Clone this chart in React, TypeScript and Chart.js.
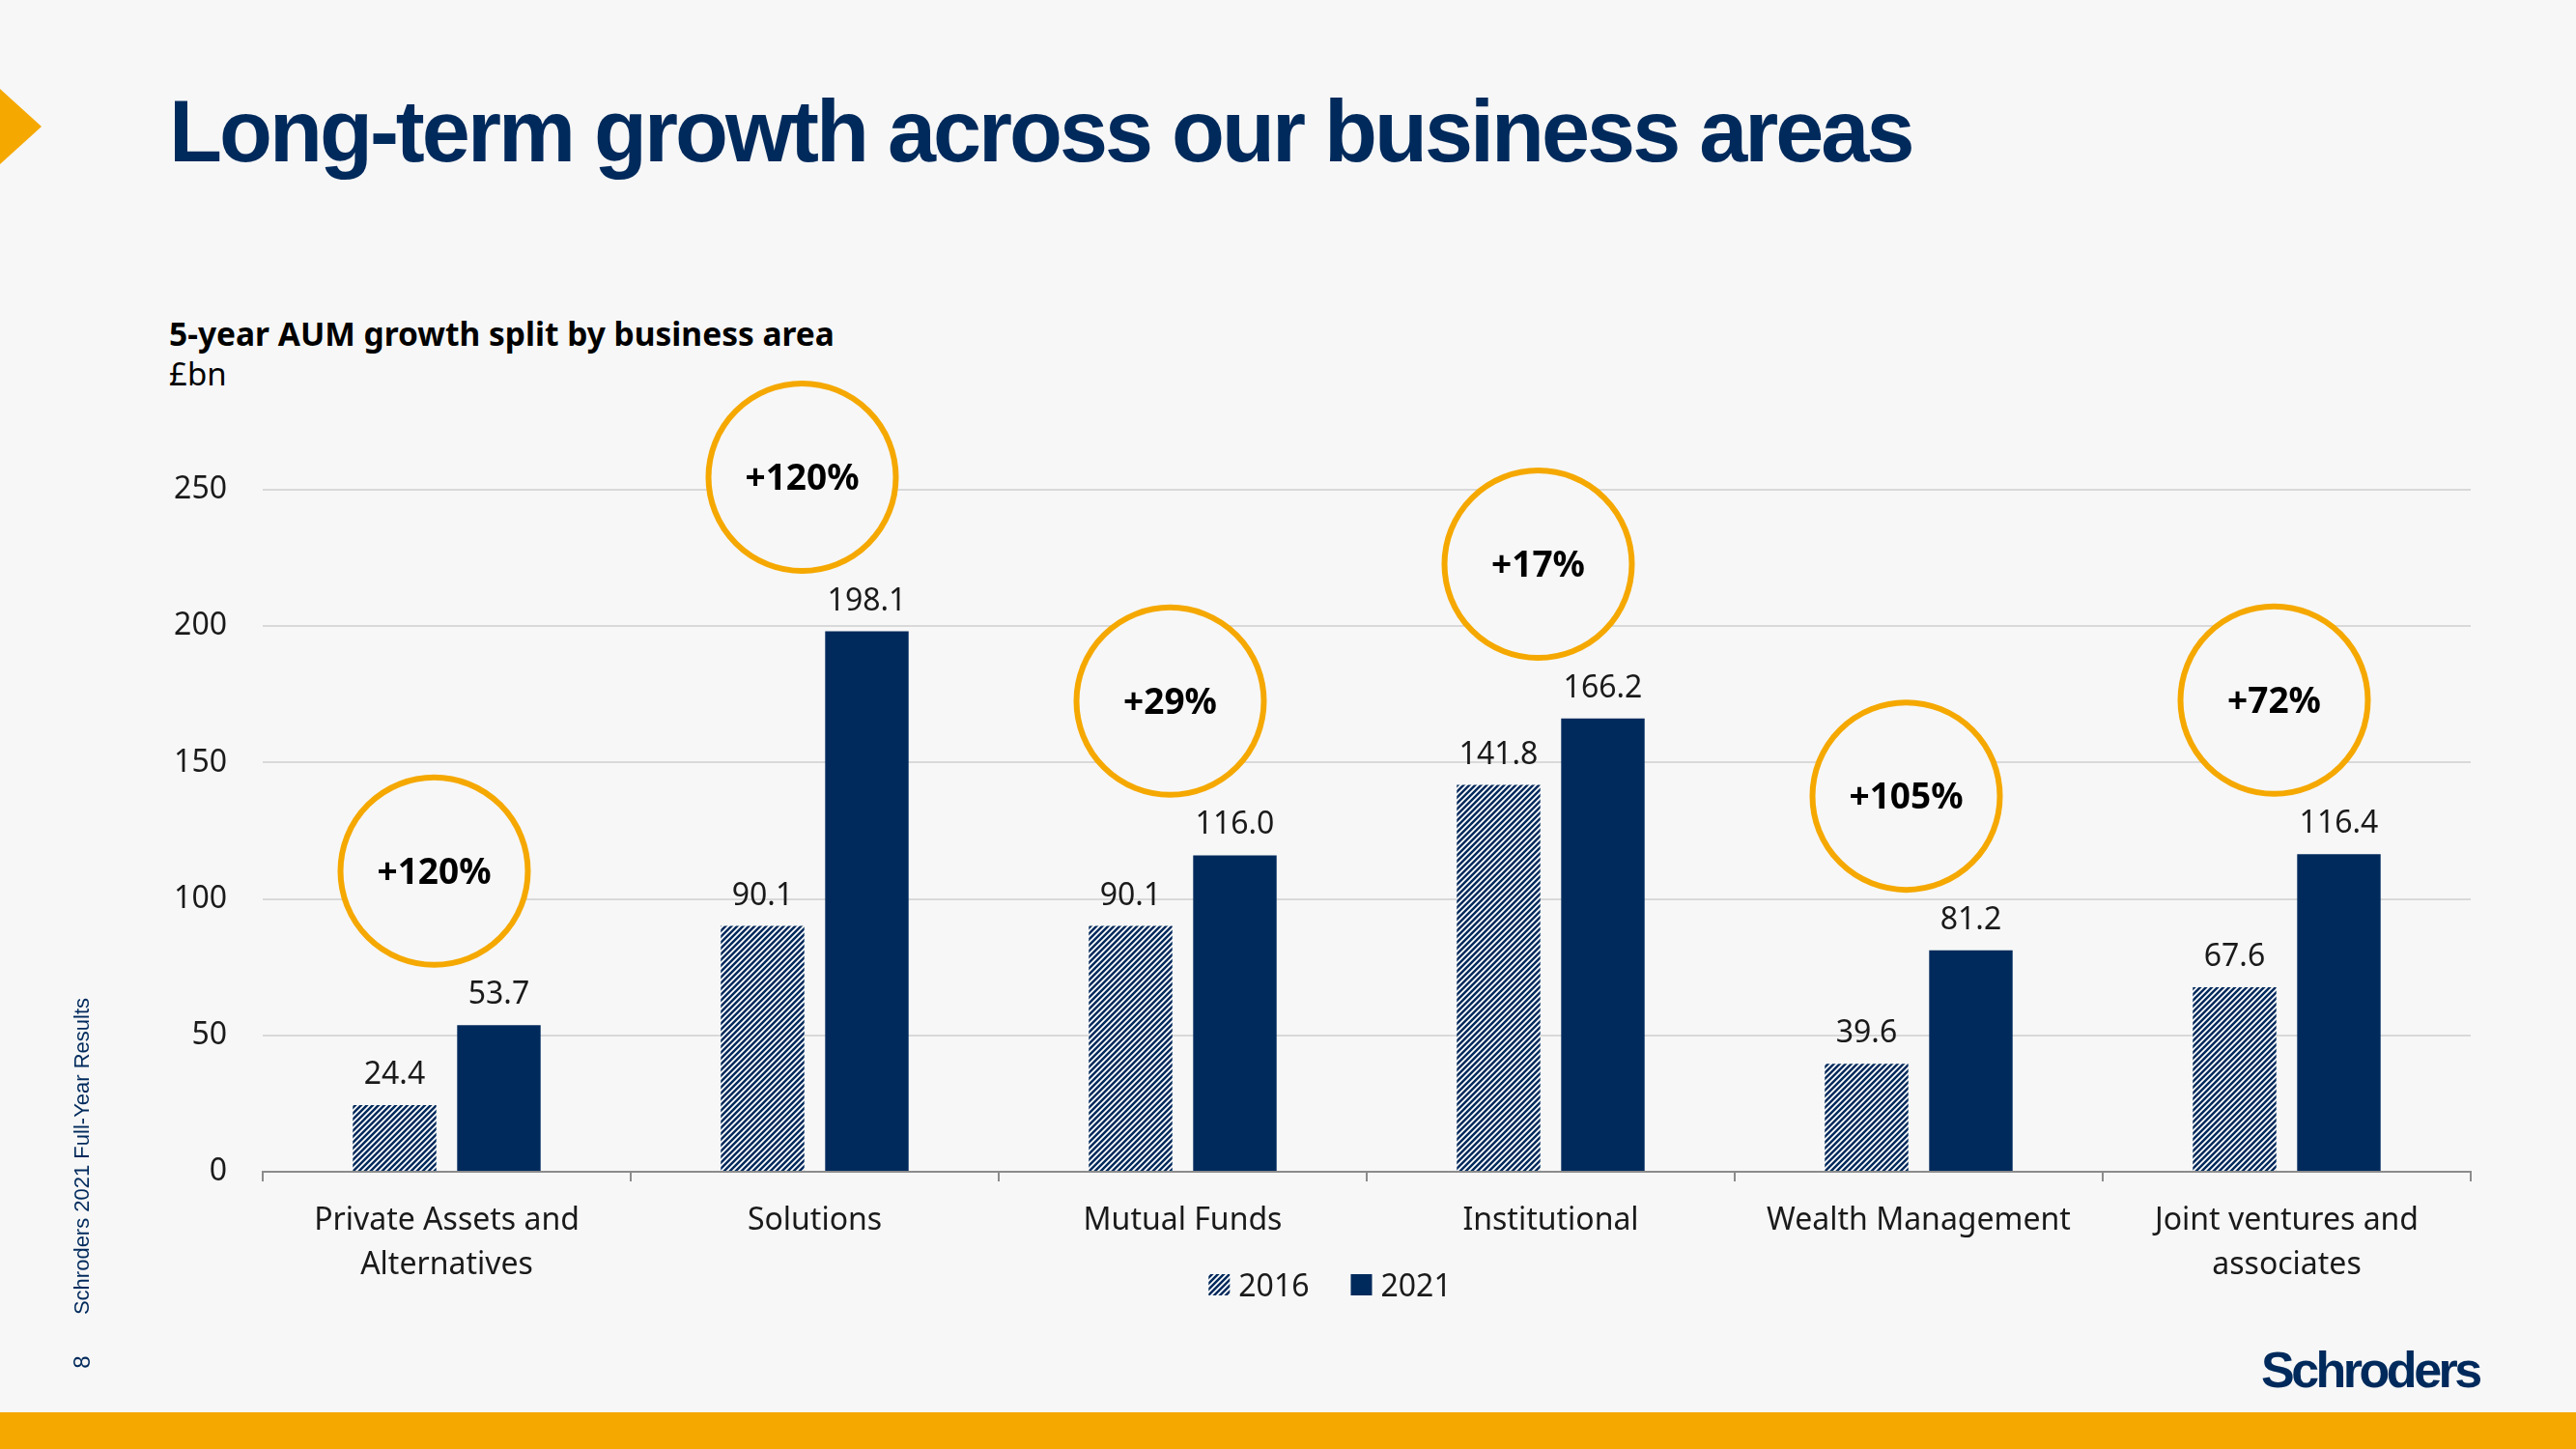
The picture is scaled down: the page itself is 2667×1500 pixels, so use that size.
import React, { useEffect, useRef } from 'react';
import { Chart, registerables } from 'chart.js';

Chart.register(...registerables);

// ---- data ----
const categories: (string | string[])[] = [
  ['Private Assets and', 'Alternatives'],
  'Solutions',
  'Mutual Funds',
  'Institutional',
  'Wealth Management',
  ['Joint ventures and', 'associates'],
];
const seriesNames = ['2016', '2021'];
const values2016 = [24.4, 90.1, 90.1, 141.8, 39.6, 67.6];
const values2021 = [53.7, 198.1, 116.0, 166.2, 81.2, 116.4];
const growthLabels = ['+120%', '+120%', '+29%', '+17%', '+105%', '+72%'];
const yTickValues = [0, 50, 100, 150, 200, 250];

// ---- style ----
const NAVY = '#002a5c';
const ORANGE = '#f5a800';
const BG = '#f7f7f7';
const FONT = "'Noto Sans', 'Open Sans', sans-serif";

export default function App() {
  const ref = useRef<HTMLCanvasElement>(null);

  useEffect(() => {
    const canvas = ref.current!;
    const ctx = canvas.getContext('2d')!;

    // hatch pattern for 2016
    const s = 6;
    const pc = document.createElement('canvas');
    pc.width = s;
    pc.height = s;
    const p = pc.getContext('2d')!;
    p.fillStyle = '#ffffff';
    p.fillRect(0, 0, s, s);
    p.strokeStyle = NAVY;
    p.lineWidth = 2.5;
    p.beginPath();
    p.moveTo(-s, s); p.lineTo(s, -s);
    p.moveTo(0, s); p.lineTo(s, 0);
    p.moveTo(0, 2 * s); p.lineTo(2 * s, 0);
    p.stroke();
    const hatch = ctx.createPattern(pc, 'repeat')!;

    const valueLabels = {
      id: 'valueLabels',
      afterDatasetsDraw(chart: any) {
        const c = chart.ctx;
        c.save();
        c.font = `32px ${FONT}`;
        c.fillStyle = '#1a1a1a';
        c.textAlign = 'center';
        c.textBaseline = 'alphabetic';
        chart.data.datasets.forEach((ds: any, di: number) => {
          const meta = chart.getDatasetMeta(di);
          meta.data.forEach((bar: any, i: number) => {
            c.fillText(Number(ds.data[i]).toFixed(1), bar.x, bar.y - 22);
          });
        });
        c.restore();
      },
    };

    const growthCircles = {
      id: 'growthCircles',
      afterDraw(chart: any) {
        const c = chart.ctx;
        const xs = chart.scales.x;
        const ys = chart.scales.y;
        c.save();
        growthLabels.forEach((txt, i) => {
          const top = Math.max(values2016[i], values2021[i]);
          const cx = xs.getPixelForValue(i) - 13;
          const cy = ys.getPixelForValue(top + 56.5);
          c.beginPath();
          c.arc(cx, cy, 97, 0, Math.PI * 2);
          c.fillStyle = BG;
          c.fill();
          c.lineWidth = 6;
          c.strokeStyle = ORANGE;
          c.stroke();
          c.fillStyle = '#000';
          c.font = `bold 37px ${FONT}`;
          c.textAlign = 'center';
          c.textBaseline = 'alphabetic';
          c.fillText(txt, cx, cy + 13);
        });
        c.restore();
      },
    };

    const customLegend = {
      id: 'customLegend',
      afterDraw(chart: any) {
        const c = chart.ctx;
        const area = chart.chartArea;
        c.save();
        c.font = `32px ${FONT}`;
        const box = 22;
        const gap = 9;
        const itemGap = 43;
        const items = chart.data.datasets.map((ds: any) => ({
          text: ds.label,
          color: ds.backgroundColor,
          w: c.measureText(ds.label).width,
        }));
        const total = items.reduce((a: number, it: any) => a + box + gap + it.w, 0) + itemGap * (items.length - 1);
        let x = (area.left + area.right) / 2 - 38 - total / 2;
        const cy = area.bottom + 117;
        items.forEach((it: any) => {
          c.fillStyle = it.color;
          c.fillRect(x, cy - box / 2, box, box);
          x += box + gap;
          c.fillStyle = '#1a1a1a';
          c.textAlign = 'left';
          c.textBaseline = 'alphabetic';
          c.fillText(it.text, x, cy + 11.5);
          x += it.w + itemGap;
        });
        c.restore();
      },
    };

    const chart = new Chart(canvas, {
      type: 'bar',
      data: {
        labels: categories,
        datasets: [
          {
            label: seriesNames[0],
            data: values2016,
            backgroundColor: hatch,
            borderWidth: 0,
            categoryPercentage: 0.567,
            barPercentage: 0.8,
          },
          {
            label: seriesNames[1],
            data: values2021,
            backgroundColor: NAVY,
            borderWidth: 0,
            categoryPercentage: 0.567,
            barPercentage: 0.8,
          },
        ],
      },
      options: {
        animation: false,
        responsive: false,
        maintainAspectRatio: false,
        layout: { padding: { left: 152, right: 109, top: 507, bottom: 157 } },
        plugins: {
          legend: { display: false },
          tooltip: { enabled: false },
        },
        scales: {
          x: {
            grid: {
              offset: true,
              drawOnChartArea: false,
              drawTicks: true,
              tickLength: 10,
              color: '#8c8c8c',
              lineWidth: 2,
            },
            border: { color: '#8c8c8c', width: 2 },
            ticks: {
              font: { family: FONT, size: 32, lineHeight: 1.44 },
              color: '#1a1a1a',
              padding: 18,
              maxRotation: 0,
              autoSkip: false,
            },
            afterFit: (sc: any) => { sc.height = 130; },
          },
          y: {
            min: yTickValues[0],
            max: yTickValues[yTickValues.length - 1],
            afterBuildTicks: (sc: any) => { sc.ticks = yTickValues.map((v) => ({ value: v })); },
            ticks: {
              font: { family: FONT, size: 32 },
              color: '#1a1a1a',
              padding: 37,
            },
            grid: { color: '#d9d9d9', lineWidth: 2, drawTicks: false },
            border: { display: false },
            afterFit: (sc: any) => { sc.width = 120; },
          },
        },
      },
      plugins: [valueLabels, growthCircles, customLegend],
    } as any);

    return () => chart.destroy();
  }, []);

  const abs = (o: React.CSSProperties): React.CSSProperties => ({ position: 'absolute', whiteSpace: 'nowrap', margin: 0, ...o });

  return (
    <div style={{ position: 'fixed', left: 0, top: 0, width: 2667, height: 1500, background: BG, overflow: 'hidden' }}>
      <svg style={{ position: 'absolute', left: 0, top: 0 }} width={60} height={200}>
        <polygon points="0,92 43,131 0,170" fill={ORANGE} />
      </svg>
      <div style={abs({ left: 175, top: 91, fontFamily: "'Liberation Sans', Arial, sans-serif", fontWeight: 'bold', fontSize: 90, lineHeight: '90px', letterSpacing: '-3px', color: NAVY })}>
        Long-term growth across our business areas
      </div>
      <div style={abs({ left: 175, top: 328, fontFamily: FONT, fontWeight: 'bold', fontSize: 33.5, lineHeight: '34px', color: '#000' })}>
        5-year AUM growth split by business area
      </div>
      <div style={abs({ left: 175, top: 370, fontFamily: FONT, fontSize: 33, lineHeight: '33px', color: '#000' })}>
        £bn
      </div>
      <canvas ref={ref} width={2667} height={1500} style={{ position: 'absolute', left: 0, top: 0, width: 2667, height: 1500 }} />
      <div style={abs({ left: 85 - 200, top: 1197 - 13, width: 400, height: 26, lineHeight: '26px', textAlign: 'center', transform: 'rotate(-90deg)', fontFamily: "'Liberation Sans', Arial, sans-serif", fontSize: 22, color: NAVY })}>
        Schroders 2021 Full-Year Results
      </div>
      <div style={abs({ left: 85 - 20, top: 1410 - 13, width: 40, height: 26, lineHeight: '26px', textAlign: 'center', transform: 'rotate(-90deg)', fontFamily: "'Liberation Sans', Arial, sans-serif", fontSize: 24, color: NAVY })}>
        8
      </div>
      <div style={abs({ left: 2341, top: 1392, fontFamily: "'Liberation Sans', Arial, sans-serif", fontWeight: 'bold', fontSize: 52, lineHeight: '52px', letterSpacing: '-3.5px', color: NAVY })}>
        Schroders
      </div>
      <div style={abs({ left: 0, top: 1462, width: 2667, height: 38, background: ORANGE })} />
    </div>
  );
}
